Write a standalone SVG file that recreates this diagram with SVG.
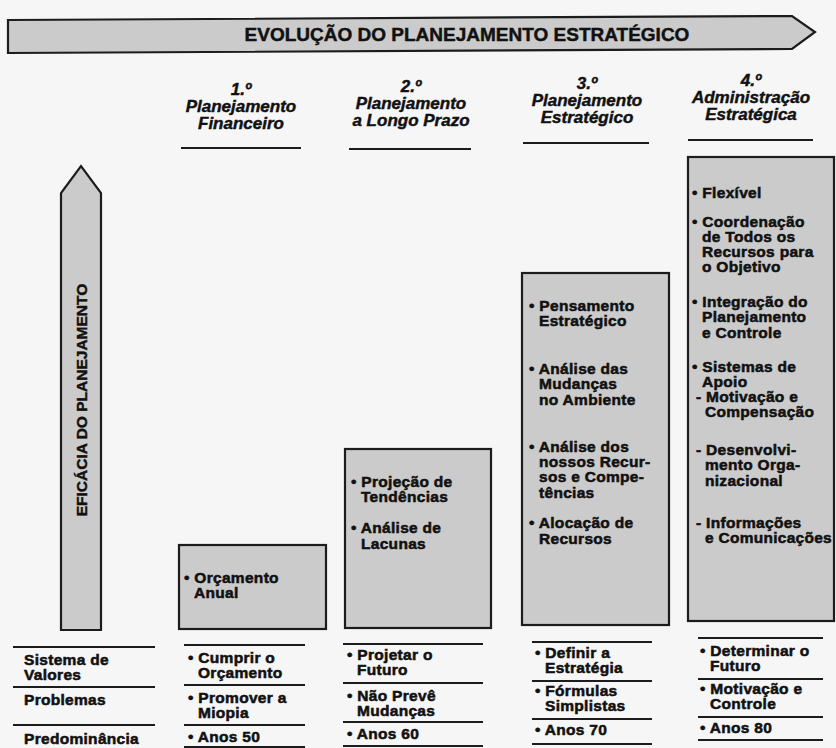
<svg xmlns="http://www.w3.org/2000/svg" width="836" height="748" viewBox="0 0 836 748">
<style>
.bg{fill:#f6f6f6}
.box{fill:#cbcbcb;stroke:#1c1c1c;stroke-width:2.2}
.t{font-family:"Liberation Sans",Arial,sans-serif;font-weight:bold;font-size:15.5px;letter-spacing:0.3px;fill:#111;stroke:#111;stroke-width:0.55}
.h{font-family:"Liberation Sans",Arial,sans-serif;font-weight:bold;font-style:italic;font-size:17px;fill:#111;text-anchor:middle;stroke:#111;stroke-width:0.45}
.ban{font-family:"Liberation Sans",Arial,sans-serif;font-weight:bold;font-size:19px;fill:#111;text-anchor:middle;stroke:#111;stroke-width:0.45}
.ln{stroke:#1c1c1c;stroke-width:1.8;fill:none}
</style>
<rect class="bg" x="0" y="0" width="836" height="748"/>

<g id="banner">
<polygon class="box" points="8,20 792,16 815,32 792,49 8,53"/>
<text class="ban" x="467" y="41">EVOLUÇÃO DO PLANEJAMENTO ESTRATÉGICO</text>
</g>

<g id="eficacia">
<polygon class="box" points="61,630 61,193 81,166 101,193 101,630"/>
<text class="ban" style="font-size:15.5px" transform="translate(87,400) rotate(-90)" x="0" y="0">EFICÁCIA DO PLANEJAMENTO</text>
</g>

<g id="header1">
<text class="h" x="241" y="95">1.º</text>
<text class="h" x="241" y="112">Planejamento</text>
<text class="h" x="241" y="129">Financeiro</text>
<line class="ln" x1="181" y1="148" x2="301" y2="148"/>
</g>
<g id="header2">
<text class="h" x="411" y="92">2.º</text>
<text class="h" x="411" y="109">Planejamento</text>
<text class="h" x="411" y="126">a Longo Prazo</text>
<line class="ln" x1="349" y1="149" x2="471" y2="149"/>
</g>
<g id="header3">
<text class="h" x="587" y="89">3.º</text>
<text class="h" x="587" y="106">Planejamento</text>
<text class="h" x="587" y="123">Estratégico</text>
<line class="ln" x1="523" y1="143" x2="649" y2="143"/>
</g>
<g id="header4">
<text class="h" x="751" y="86">4.º</text>
<text class="h" x="751" y="103">Administração</text>
<text class="h" x="751" y="120">Estratégica</text>
<line class="ln" x1="688" y1="140" x2="813" y2="140"/>
</g>

<g id="box1">
<rect class="box" x="179" y="545" width="147" height="84"/>
<text class="t" x="184" y="583">• Orçamento</text>
<text class="t" x="194" y="598">Anual</text>
</g>

<g id="box2">
<rect class="box" x="345" y="449" width="146" height="179"/>
<text class="t" x="351" y="487">• Projeção de</text>
<text class="t" x="361" y="502">Tendências</text>
<text class="t" x="351" y="533">• Análise de</text>
<text class="t" x="361" y="549">Lacunas</text>
</g>

<g id="box3">
<rect class="box" x="522" y="273" width="147" height="352"/>
<text class="t" x="529" y="311">• Pensamento</text>
<text class="t" x="539" y="326">Estratégico</text>
<text class="t" x="529" y="374">• Análise das</text>
<text class="t" x="539" y="389">Mudanças</text>
<text class="t" x="539" y="405">no Ambiente</text>
<text class="t" x="529" y="452">• Análise dos</text>
<text class="t" x="539" y="467">nossos Recur-</text>
<text class="t" x="539" y="482">sos e Compe-</text>
<text class="t" x="539" y="498">tências</text>
<text class="t" x="529" y="528">• Alocação de</text>
<text class="t" x="539" y="544">Recursos</text>
</g>

<g id="box4">
<rect class="box" x="688" y="157" width="146" height="464"/>
<text class="t" x="692" y="198">• Flexível</text>
<text class="t" x="692" y="227">• Coordenação</text>
<text class="t" x="702" y="242">de Todos os</text>
<text class="t" x="702" y="257">Recursos para</text>
<text class="t" x="702" y="272">o Objetivo</text>
<text class="t" x="692" y="307">• Integração do</text>
<text class="t" x="702" y="322">Planejamento</text>
<text class="t" x="702" y="338">e Controle</text>
<text class="t" x="692" y="372">• Sistemas de</text>
<text class="t" x="702" y="387">Apoio</text>
<text class="t" x="696" y="402">- Motivação e</text>
<text class="t" x="705" y="417">Compensação</text>
<text class="t" x="696" y="455">- Desenvolvi-</text>
<text class="t" x="705" y="470">mento Orga-</text>
<text class="t" x="705" y="486">nizacional</text>
<text class="t" x="696" y="528">- Informações</text>
<text class="t" x="705" y="543" textLength="127" lengthAdjust="spacingAndGlyphs">e Comunicações</text>
</g>

<g id="table-labels">
<line class="ln" x1="13" y1="647" x2="155" y2="647"/>
<line class="ln" x1="13" y1="687" x2="155" y2="687"/>
<line class="ln" x1="13" y1="725" x2="155" y2="725"/>
<text class="t" x="24" y="665">Sistema de</text>
<text class="t" x="24" y="680">Valores</text>
<text class="t" x="24" y="705">Problemas</text>
<text class="t" x="24" y="744">Predominância</text>
</g>

<g id="table-col1">
<line class="ln" x1="184" y1="645" x2="305" y2="645"/>
<line class="ln" x1="184" y1="685" x2="305" y2="685"/>
<line class="ln" x1="184" y1="725" x2="305" y2="725"/>
<line class="ln" x1="184" y1="747" x2="305" y2="747"/>
<text class="t" x="188" y="663">• Cumprir o</text>
<text class="t" x="198" y="678">Orçamento</text>
<text class="t" x="188" y="703">• Promover a</text>
<text class="t" x="198" y="718">Miopia</text>
<text class="t" x="188" y="742">• Anos 50</text>
</g>

<g id="table-col2">
<line class="ln" x1="343" y1="644" x2="483" y2="644"/>
<line class="ln" x1="343" y1="683" x2="483" y2="683"/>
<line class="ln" x1="343" y1="722" x2="483" y2="722"/>
<line class="ln" x1="343" y1="746" x2="483" y2="746"/>
<text class="t" x="347" y="660">• Projetar o</text>
<text class="t" x="357" y="675">Futuro</text>
<text class="t" x="347" y="701">• Não Prevê</text>
<text class="t" x="357" y="716">Mudanças</text>
<text class="t" x="347" y="739">• Anos 60</text>
</g>

<g id="table-col3">
<line class="ln" x1="532" y1="642" x2="652" y2="642"/>
<line class="ln" x1="532" y1="681" x2="652" y2="681"/>
<line class="ln" x1="532" y1="719" x2="652" y2="719"/>
<line class="ln" x1="532" y1="744" x2="652" y2="744"/>
<text class="t" x="535" y="658">• Definir a</text>
<text class="t" x="545" y="673">Estratégia</text>
<text class="t" x="535" y="696">• Fórmulas</text>
<text class="t" x="545" y="711">Simplistas</text>
<text class="t" x="535" y="735">• Anos 70</text>
</g>

<g id="table-col4">
<line class="ln" x1="698" y1="638" x2="823" y2="638"/>
<line class="ln" x1="698" y1="679" x2="823" y2="679"/>
<line class="ln" x1="698" y1="717" x2="823" y2="717"/>
<line class="ln" x1="698" y1="740" x2="823" y2="740"/>
<text class="t" x="700" y="656">• Determinar o</text>
<text class="t" x="710" y="671">Futuro</text>
<text class="t" x="700" y="694">• Motivação e</text>
<text class="t" x="710" y="709">Controle</text>
<text class="t" x="700" y="733">• Anos 80</text>
</g>

<g id="connectors"></g>
</svg>
